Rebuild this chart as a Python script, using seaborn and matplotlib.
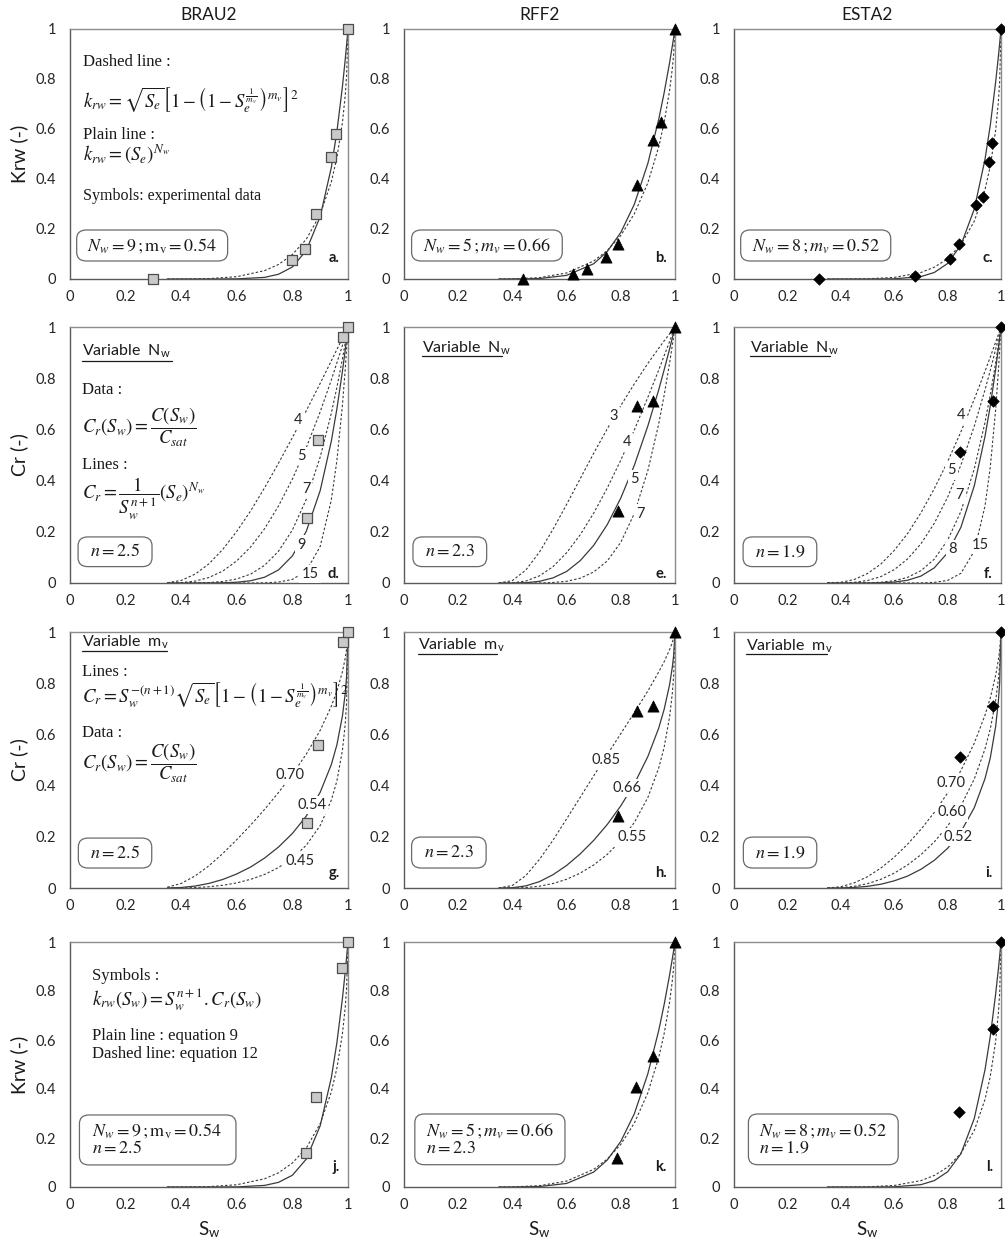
import matplotlib
matplotlib.use("Agg")
import matplotlib.pyplot as plt
import seaborn as sns
from matplotlib.patches import FancyBboxPatch
from matplotlib.ticker import MultipleLocator

sns.set_style("white")
plt.rcParams['font.family'] = ['Lato', 'DejaVu Sans']
plt.rcParams['mathtext.fontset'] = 'stix'

# --- data ---
SW = [0.35, 0.40, 0.50, 0.60, 0.70, 0.75, 0.80, 0.85, 0.90, 0.94, 0.96, 0.98, 0.99, 0.995, 1.00]
SW_CR = [0.35, 0.40, 0.45, 0.50, 0.55, 0.60, 0.65, 0.70, 0.75, 0.80, 0.85, 0.90, 0.94, 0.96,
         0.98, 0.99, 0.995, 1.00]

# row 1 / row 4 : krw model curves
KRW_A_PLAIN = [0, 0, 0, 0.0005, 0.0065, 0.019, 0.048, 0.114, 0.250, 0.446, 0.589, 0.770, 0.878, 0.938, 1.0]
KRW_A_DASHED = [0, 0.0001, 0.0016, 0.0092, 0.0335, 0.058, 0.098, 0.159, 0.259, 0.388, 0.485, 0.626, 0.734, 0.813, 1.0]
KRW_B_PLAIN = [0, 0.0001, 0.0019, 0.0145, 0.061, 0.110, 0.186, 0.299, 0.463, 0.639, 0.745, 0.865, 0.931, 0.965, 1.0]
KRW_B_DASHED = [0, 0.0005, 0.0055, 0.024, 0.072, 0.114, 0.174, 0.261, 0.385, 0.529, 0.626, 0.754, 0.841, 0.898, 1.0]
KRW_C_PLAIN = [0, 0, 0, 0.0008, 0.0095, 0.026, 0.062, 0.136, 0.280, 0.478, 0.616, 0.788, 0.888, 0.942, 1.0]
KRW_C_DASHED = [0, 0, 0.0009, 0.0063, 0.026, 0.047, 0.081, 0.138, 0.231, 0.357, 0.452, 0.595, 0.707, 0.790, 1.0]

# row 2 : Cr, variable Nw
CR_D = {
    "4": [0.001, 0.010, 0.0345, 0.075, 0.132, 0.202, 0.282, 0.372, 0.468, 0.568, 0.673, 0.780, 0.868, 0.912, 0.956, 0.978, 0.989, 1.0],
    "5": [0, 0.0015, 0.0074, 0.0215, 0.047, 0.0864, 0.141, 0.212, 0.301, 0.406, 0.529, 0.669, 0.793, 0.860, 0.928, 0.964, 0.982, 1.0],
    "7": [0, 0, 0.0003, 0.0018, 0.006, 0.0159, 0.035, 0.069, 0.124, 0.207, 0.327, 0.492, 0.663, 0.764, 0.876, 0.937, 0.968, 1.0],
    "9": [0, 0, 0, 0.0001, 0.0008, 0.0029, 0.0088, 0.0226, 0.051, 0.106, 0.202, 0.361, 0.554, 0.680, 0.827, 0.910, 0.954, 1.0],
    "15": [0, 0, 0, 0, 0, 0, 0.0001, 0.0008, 0.0036, 0.014, 0.047, 0.143, 0.324, 0.478, 0.695, 0.835, 0.914, 1.0],
}
CR_E = {
    "3": [0, 0.0094, 0.051, 0.121, 0.210, 0.307, 0.407, 0.507, 0.602, 0.693, 0.778, 0.858, 0.917, 0.946, 0.973, 0.987, 0.993, 1.0],
    "4": [0, 0.0007, 0.0078, 0.028, 0.064, 0.118, 0.188, 0.273, 0.371, 0.480, 0.598, 0.726, 0.832, 0.888, 0.943, 0.972, 0.986, 1.0],
    "5": [0, 0, 0.0012, 0.0065, 0.020, 0.045, 0.087, 0.147, 0.228, 0.332, 0.460, 0.614, 0.755, 0.833, 0.914, 0.957, 0.978, 1.0],
    "7": [0, 0, 0, 0.0003, 0.0019, 0.0067, 0.0185, 0.043, 0.086, 0.159, 0.272, 0.440, 0.622, 0.734, 0.859, 0.928, 0.963, 1.0],
}
CR_F = {
    "4": [0, 0.0027, 0.0135, 0.037, 0.074, 0.127, 0.193, 0.274, 0.368, 0.474, 0.591, 0.718, 0.827, 0.883, 0.941, 0.970, 0.985, 1.0],
    "5": [0, 0.0003, 0.0026, 0.0097, 0.025, 0.052, 0.094, 0.153, 0.233, 0.335, 0.461, 0.613, 0.754, 0.831, 0.913, 0.956, 0.978, 1.0],
    "7": [0, 0, 0.0001, 0.0007, 0.0029, 0.0088, 0.022, 0.048, 0.093, 0.167, 0.280, 0.446, 0.627, 0.737, 0.860, 0.928, 0.963, 1.0],
    "8": [0, 0, 0, 0.0002, 0.001, 0.0036, 0.0107, 0.027, 0.059, 0.118, 0.218, 0.380, 0.572, 0.693, 0.835, 0.915, 0.956, 1.0],
    "15": [0, 0, 0, 0, 0, 0, 0.0001, 0.0005, 0.0024, 0.010, 0.038, 0.125, 0.300, 0.454, 0.678, 0.825, 0.908, 1.0],
}
# row 3 : Cr, variable mv
CR_G = {
    "0.70": [0.003, 0.018, 0.047, 0.087, 0.135, 0.189, 0.246, 0.307, 0.373, 0.444, 0.523, 0.616, 0.710, 0.769, 0.845, 0.898, 0.934, 1.0],
    "0.54": [0, 0.002, 0.0076, 0.018, 0.0335, 0.055, 0.082, 0.117, 0.160, 0.213, 0.281, 0.374, 0.482, 0.559, 0.672, 0.760, 0.828, 1.0],
    "0.45": [0, 0.0003, 0.0017, 0.005, 0.0107, 0.020, 0.034, 0.053, 0.080, 0.116, 0.167, 0.244, 0.343, 0.418, 0.538, 0.640, 0.725, 1.0],
}
CR_H = {
    "0.85": [0, 0.010, 0.049, 0.112, 0.187, 0.270, 0.354, 0.438, 0.521, 0.603, 0.685, 0.770, 0.844, 0.884, 0.931, 0.959, 0.978, 1.0],
    "0.66": [0, 0.001, 0.0084, 0.025, 0.052, 0.088, 0.133, 0.186, 0.248, 0.321, 0.407, 0.514, 0.625, 0.698, 0.794, 0.862, 0.908, 1.0],
    "0.55": [0, 0.0001, 0.0019, 0.007, 0.0175, 0.034, 0.058, 0.090, 0.131, 0.185, 0.256, 0.354, 0.469, 0.550, 0.668, 0.760, 0.829, 1.0],
}
CR_I = {
    "0.70": [0, 0.005, 0.020, 0.044, 0.078, 0.120, 0.171, 0.229, 0.295, 0.371, 0.459, 0.566, 0.675, 0.743, 0.831, 0.890, 0.929, 1.0],
    "0.60": [0, 0.0014, 0.0066, 0.017, 0.034, 0.058, 0.090, 0.130, 0.180, 0.242, 0.321, 0.426, 0.543, 0.622, 0.732, 0.814, 0.872, 1.0],
    "0.52": [0, 0.0003, 0.0021, 0.0065, 0.0147, 0.028, 0.0465, 0.073, 0.108, 0.155, 0.220, 0.314, 0.427, 0.509, 0.631, 0.728, 0.802, 1.0],
}
SOLID_KEY = {"d": "9", "e": "5", "f": "8", "g": "0.54", "h": "0.66", "i": "0.52"}

# experimental points
KRW_PTS_A_X = [0.30, 0.80, 0.845, 0.885, 0.94, 0.957, 1.0]
KRW_PTS_A_Y = [0.0, 0.076, 0.12, 0.26, 0.49, 0.58, 1.0]
KRW_PTS_B_X = [0.438, 0.622, 0.674, 0.745, 0.79, 0.858, 0.92, 0.948, 1.0]
KRW_PTS_B_Y = [0.0, 0.02, 0.04, 0.088, 0.14, 0.376, 0.556, 0.63, 1.0]
KRW_PTS_C_X = [0.318, 0.678, 0.809, 0.843, 0.905, 0.931, 0.955, 0.966, 1.0]
KRW_PTS_C_Y = [0.0, 0.012, 0.08, 0.14, 0.297, 0.328, 0.47, 0.545, 1.0]

CR_PTS_A_X = [0.851, 0.891, 0.981, 1.0]
CR_PTS_A_Y = [0.253, 0.560, 0.960, 1.0]
CR_PTS_B_X = [0.789, 0.858, 0.919, 1.0]
CR_PTS_B_Y = [0.28, 0.69, 0.712, 1.0]
CR_PTS_C_X = [0.846, 0.969, 1.0]
CR_PTS_C_Y = [0.513, 0.711, 1.0]

KRW2_PTS_A_X = [0.849, 0.885, 0.977, 1.0]
KRW2_PTS_A_Y = [0.139, 0.367, 0.894, 1.0]
KRW2_PTS_B_X = [0.787, 0.857, 0.918, 1.0]
KRW2_PTS_B_Y = [0.118, 0.408, 0.533, 1.0]
KRW2_PTS_C_X = [0.844, 0.969, 1.0]
KRW2_PTS_C_Y = [0.305, 0.645, 1.0]

SAMPLES = ["BRAU2", "RFF2", "ESTA2"]
TICKS = [0, 0.2, 0.4, 0.6, 0.8, 1.0]
TICK_LABELS = ["0", "0.2", "0.4", "0.6", "0.8", "1"]

LINE_COLOR = "#3a3a3a"
SERIF = "Liberation Serif"
TXT = 12      # plain serif annotation size
MATH = 13.5   # formula size

# --- figure layout (pixel boxes of the reference) ---
fig = plt.figure(figsize=(10.05, 12.48), dpi=100)
COL_PX = [(70, 348), (404, 675), (734, 1001)]
ROW_PX = [(29, 279), (327, 583), (632, 888), (942, 1187)]
axes = []
for (y0, y1) in ROW_PX:
    row = []
    for (x0, x1) in COL_PX:
        row.append(fig.add_axes([x0 / 1005, 1 - y1 / 1248, (x1 - x0) / 1005, (y1 - y0) / 1248]))
    axes.append(row)


def style_axes(ax):
    ax.set_xlim(0, 1)
    ax.set_ylim(0, 1)
    ax.set_xticks(TICKS)
    ax.set_xticklabels(TICK_LABELS)
    ax.set_yticks(TICKS)
    ax.set_yticklabels(TICK_LABELS)
    ax.xaxis.set_minor_locator(MultipleLocator(0.05))
    ax.yaxis.set_minor_locator(MultipleLocator(0.05))
    ax.tick_params(which='both', direction='in', color='#6a6a6a', width=0.8)
    ax.tick_params(which='major', length=4, labelsize=10.5, labelcolor='#262626')
    ax.tick_params(axis='y', which='major', pad=10)
    ax.tick_params(axis='x', which='major', pad=8)
    ax.tick_params(which='minor', length=3)
    for sp in ax.spines.values():
        sp.set_color('#8c8c8c')
        sp.set_linewidth(1.0)
    ax.spines['left'].set_color('#5a5a5a')
    ax.spines['bottom'].set_color('#5a5a5a')
    ax.set_xlabel("")
    ax.set_ylabel("")


def curve(ax, x, y, dashed):
    if dashed:
        sns.lineplot(x=x, y=y, ax=ax, color=LINE_COLOR, lw=0.8, linestyle=(0, (2.2, 1.8)),
                     errorbar=None, sort=False)
    else:
        sns.lineplot(x=x, y=y, ax=ax, color=LINE_COLOR, lw=0.9, errorbar=None, sort=False)


def points(ax, x, y, col):
    if col == 0:
        sns.scatterplot(x=x, y=y, ax=ax, marker='s', s=55, color='#c9c9c9', edgecolor='#4d4d4d',
                        linewidth=0.9, clip_on=False, zorder=5)
    elif col == 1:
        sns.scatterplot(x=x, y=y, ax=ax, marker='^', s=65, color='black', edgecolor='black',
                        linewidth=0.5, clip_on=False, zorder=5)
    else:
        sns.scatterplot(x=x, y=y, ax=ax, marker='D', s=34, color='black', edgecolor='black',
                        linewidth=0.5, clip_on=False, zorder=5)


def curve_label(ax, x, y, s):
    ax.text(x, y, s, fontsize=10.5, ha='center', va='center', color='#262626', zorder=4,
            bbox=dict(boxstyle='square,pad=0.15', fc='white', ec='none'))


def rbox(ax, x0, y0, x1, y1):
    ax.add_patch(FancyBboxPatch((x0, y0), x1 - x0, y1 - y0, transform=ax.transAxes,
                                boxstyle="round,pad=0,rounding_size=0.035", fc='white',
                                ec='#6a6a6a', lw=0.9, zorder=6))


def serif_text(ax, x, y, s, size=TXT, **kw):
    ax.text(x, y, s, transform=ax.transAxes, fontsize=size, family=SERIF, va='center',
            color='#1a1a1a', zorder=7, **kw)


def underlined(ax, x, y, s, x_end, y_line):
    ax.text(x, y, s, transform=ax.transAxes, fontsize=11.5, va='center', color='#1a1a1a')
    ax.plot([x, x_end], [y_line, y_line], transform=ax.transAxes, color='#1a1a1a', lw=0.9)


def panel_letter(ax, x, y, s):
    ax.text(x, y, s, transform=ax.transAxes, fontsize=10.5, fontweight='bold', ha='right',
            va='center', color='#1a1a1a', zorder=7)


for r in range(4):
    for c in range(3):
        style_axes(axes[r][c])

# --- rows 1 and 4 : krw ---
plain_krw = [KRW_A_PLAIN, KRW_B_PLAIN, KRW_C_PLAIN]
dashed_krw = [KRW_A_DASHED, KRW_B_DASHED, KRW_C_DASHED]
pts1 = [(KRW_PTS_A_X, KRW_PTS_A_Y), (KRW_PTS_B_X, KRW_PTS_B_Y), (KRW_PTS_C_X, KRW_PTS_C_Y)]
pts4 = [(KRW2_PTS_A_X, KRW2_PTS_A_Y), (KRW2_PTS_B_X, KRW2_PTS_B_Y), (KRW2_PTS_C_X, KRW2_PTS_C_Y)]
ptsC = [(CR_PTS_A_X, CR_PTS_A_Y), (CR_PTS_B_X, CR_PTS_B_Y), (CR_PTS_C_X, CR_PTS_C_Y)]

for c in range(3):
    for r in (0, 3):
        ax = axes[r][c]
        curve(ax, SW, plain_krw[c], False)
        curve(ax, SW, dashed_krw[c], True)
        p = pts1[c] if r == 0 else pts4[c]
        points(ax, p[0], p[1], c)
    axes[0][c].text(0.5, 1.056, SAMPLES[c], transform=axes[0][c].transAxes, ha='center',
                    va='center', fontsize=12.5, color='#1a1a1a')
    axes[3][c].set_xlabel(r"S$_{\mathregular{w}}$", fontsize=13.5, color='#1a1a1a', labelpad=5)

ylabels = ["Krw (-)", "Cr (-)", "Cr (-)", "Krw (-)"]
for r in range(4):
    axes[r][0].set_ylabel(ylabels[r], fontsize=14, color='#1a1a1a')
    axes[r][0].yaxis.set_label_coords(-0.15, 0.5)

ax = axes[0][0]
serif_text(ax, 0.045, 0.87, "Dashed line :")
serif_text(ax, 0.045, 0.715,
           r"$k_{rw}=\sqrt{S_e}\left[1-\left(1-S_e^{\frac{1}{m_v}}\right)^{m_v}\right]^2$", size=MATH)
serif_text(ax, 0.045, 0.575, "Plain line :")
serif_text(ax, 0.045, 0.50, r"$k_{rw}=(S_e)^{N_w}$", size=MATH)
serif_text(ax, 0.045, 0.33, "Symbols: experimental data", size=11.5)
rbox(ax, 0.024, 0.072, 0.567, 0.196)
serif_text(ax, 0.295, 0.134, r"$N_w=9\,;\mathrm{m_v}=0.54$", size=13, ha='center')
panel_letter(ax, 0.97, 0.085, "a.")

ax = axes[0][1]
rbox(ax, 0.028, 0.072, 0.584, 0.196)
serif_text(ax, 0.306, 0.134, r"$N_w=5\,;m_v=0.66$", size=13, ha='center')
panel_letter(ax, 0.97, 0.085, "b.")

ax = axes[0][2]
rbox(ax, 0.025, 0.072, 0.587, 0.196)
serif_text(ax, 0.306, 0.134, r"$N_w=8\,;m_v=0.52$", size=13, ha='center')
panel_letter(ax, 0.97, 0.085, "c.")

# --- rows 2 and 3 : Cr ---
row2 = [("d", CR_D, {"4": (0.821, 0.638), "5": (0.833, 0.495), "7": (0.849, 0.367),
                      "9": (0.833, 0.15), "15": (0.863, 0.036)}),
        ("e", CR_E, {"3": (0.772, 0.652), "4": (0.822, 0.549), "5": (0.849, 0.407),
                      "7": (0.871, 0.271)}),
        ("f", CR_F, {"4": (0.849, 0.658), "5": (0.813, 0.44), "7": (0.846, 0.343),
                      "8": (0.819, 0.131), "15": (0.921, 0.148)})]
row3 = [("g", CR_G, {"0.70": (0.791, 0.442), "0.54": (0.869, 0.325), "0.45": (0.827, 0.104)}),
        ("h", CR_H, {"0.85": (0.745, 0.50), "0.66": (0.822, 0.39), "0.55": (0.84, 0.199)}),
        ("i", CR_I, {"0.70": (0.813, 0.412), "0.60": (0.815, 0.295), "0.52": (0.84, 0.199)})]

for r, spec in ((1, row2), (2, row3)):
    for c, (letter, curves, labels) in enumerate(spec):
        ax = axes[r][c]
        for key, vals in curves.items():
            curve(ax, SW_CR, vals, key != SOLID_KEY[letter])
        for key, (lx, ly) in labels.items():
            curve_label(ax, lx, ly, key)
        points(ax, ptsC[c][0], ptsC[c][1], c)

# row 2 texts
ax = axes[1][0]
underlined(ax, 0.042, 0.903, r"Variable  N$_{\mathregular{w}}$", 0.366, 0.868)
serif_text(ax, 0.042, 0.754, "Data :")
serif_text(ax, 0.042, 0.61, r"$C_r(S_w)=\dfrac{C(S_w)}{C_{sat}}$", size=MATH)
serif_text(ax, 0.042, 0.462, "Lines :")
serif_text(ax, 0.042, 0.33, r"$C_r=\dfrac{1}{S_w^{n+1}}(S_e)^{N_w}$", size=MATH)
rbox(ax, 0.029, 0.064, 0.295, 0.18)
serif_text(ax, 0.162, 0.122, r"$n=2.5$", size=13, ha='center')
panel_letter(ax, 0.97, 0.035, "d.")

ax = axes[1][1]
underlined(ax, 0.065, 0.917, r"Variable  N$_{\mathregular{w}}$", 0.36, 0.886)
rbox(ax, 0.033, 0.064, 0.305, 0.18)
serif_text(ax, 0.169, 0.122, r"$n=2.3$", size=13, ha='center')
panel_letter(ax, 0.97, 0.035, "e.")

ax = axes[1][2]
underlined(ax, 0.06, 0.917, r"Variable  N$_{\mathregular{w}}$", 0.36, 0.886)
rbox(ax, 0.034, 0.064, 0.31, 0.18)
serif_text(ax, 0.172, 0.122, r"$n=1.9$", size=13, ha='center')
panel_letter(ax, 0.97, 0.035, "f.")

# row 3 texts
ax = axes[2][0]
underlined(ax, 0.042, 0.958, r"Variable  m$_{\mathregular{v}}$", 0.348, 0.925)
serif_text(ax, 0.042, 0.845, "Lines :")
serif_text(ax, 0.042, 0.753,
           r"$C_r=S_w^{-(n+1)}\sqrt{S_e}\left[1-\left(1-S_e^{\frac{1}{m_v}}\right)^{m_v}\right]^2$",
           size=MATH)
serif_text(ax, 0.042, 0.605, "Data :")
serif_text(ax, 0.042, 0.487, r"$C_r(S_w)=\dfrac{C(S_w)}{C_{sat}}$", size=MATH)
rbox(ax, 0.03, 0.078, 0.294, 0.195)
serif_text(ax, 0.162, 0.136, r"$n=2.5$", size=13, ha='center')
panel_letter(ax, 0.97, 0.06, "g.")

ax = axes[2][1]
underlined(ax, 0.053, 0.948, r"Variable  m$_{\mathregular{v}}$", 0.342, 0.915)
rbox(ax, 0.028, 0.078, 0.303, 0.199)
serif_text(ax, 0.165, 0.138, r"$n=2.3$", size=13, ha='center')
panel_letter(ax, 0.97, 0.06, "h.")

ax = axes[2][2]
underlined(ax, 0.045, 0.944, r"Variable  m$_{\mathregular{v}}$", 0.347, 0.913)
rbox(ax, 0.035, 0.078, 0.31, 0.199)
serif_text(ax, 0.172, 0.138, r"$n=1.9$", size=13, ha='center')
panel_letter(ax, 0.97, 0.06, "i.")

# row 4 texts
ax = axes[3][0]
serif_text(ax, 0.078, 0.862, "Symbols :")
serif_text(ax, 0.078, 0.765, r"$k_{rw}(S_w)=S_w^{n+1}.C_r(S_w)$", size=MATH)
serif_text(ax, 0.078, 0.615, "Plain line : equation 9")
serif_text(ax, 0.078, 0.544, "Dashed line: equation 12")
rbox(ax, 0.034, 0.09, 0.597, 0.294)
serif_text(ax, 0.078, 0.23, r"$N_w=9\,;\mathrm{m_v}=0.54$", size=13)
serif_text(ax, 0.078, 0.158, r"$n=2.5$", size=13)
panel_letter(ax, 0.97, 0.08, "j.")

ax = axes[3][1]
rbox(ax, 0.04, 0.091, 0.594, 0.298)
serif_text(ax, 0.08, 0.23, r"$N_w=5\,;m_v=0.66$", size=13)
serif_text(ax, 0.08, 0.158, r"$n=2.3$", size=13)
panel_letter(ax, 0.97, 0.08, "k.")

ax = axes[3][2]
rbox(ax, 0.054, 0.091, 0.615, 0.298)
serif_text(ax, 0.095, 0.23, r"$N_w=8\,;m_v=0.52$", size=13)
serif_text(ax, 0.095, 0.158, r"$n=1.9$", size=13)
panel_letter(ax, 0.97, 0.08, "l.")

fig.savefig("out.png", dpi=100, facecolor='white')
